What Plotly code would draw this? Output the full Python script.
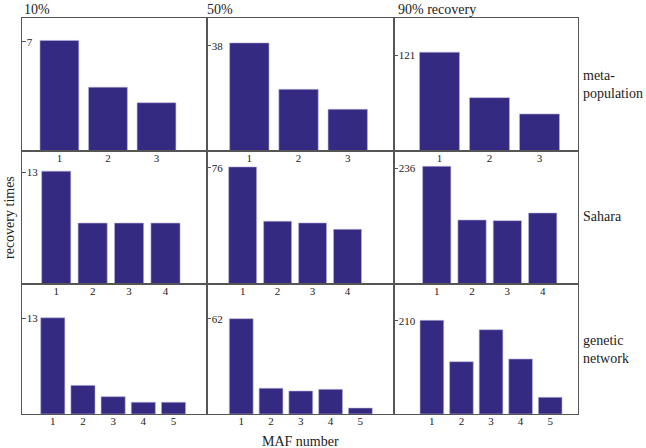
import plotly.graph_objects as go
from plotly.subplots import make_subplots

# ---- data ----
col_titles = ["10%", "50%", "90% recovery"]
row_titles = ["meta-<br>population", "Sahara", "genetic<br>network"]

meta_10 = [7.1, 4.1, 3.1]
meta_50 = [39.1, 22.3, 15.1]
meta_90 = [124.8, 67.4, 46.8]

sahara_10 = [13.15, 7.1, 7.1, 7.1]
sahara_50 = [76.7, 41.1, 40.0, 35.8]
sahara_90 = [240.7, 130.9, 129.6, 145.2]

genetic_10 = [13.1, 3.9, 2.36, 1.6, 1.6]
genetic_50 = [62.2, 16.8, 15.0, 16.1, 3.9]
genetic_90 = [210.9, 117.7, 189.7, 123.8, 37.6]

tick_labels = [[7, 38, 121], [13, 76, 236], [13, 62, 210]]
y_max = [[8.54, 48.1, 168.0], [15.5, 87.1, 272.0], [17.7, 84.8, 292.6]]
# x-axis padding (left, right) in category units
x_pad = [[(0.77, 1.04), (0.86, 0.94), (0.91, 0.77)],
         [(0.94, 1.14), (1.02, 1.33), (1.21, 1.00)],
         [(1.02, 1.11), (1.15, 1.13), (1.28, 0.94)]]

series = [[meta_10, meta_50, meta_90],
          [sahara_10, sahara_50, sahara_90],
          [genetic_10, genetic_50, genetic_90]]

BAR = "#342a82"
LINE = "#555555"
FONT = "Liberation Serif"

fig = make_subplots(rows=3, cols=3, horizontal_spacing=0, vertical_spacing=0,
                    column_widths=[185, 187, 184], row_heights=[133, 133, 130])

for r in range(3):
    for c in range(3):
        vals = series[r][c]
        xs = list(range(1, len(vals) + 1))
        fig.add_trace(go.Bar(x=xs, y=vals, marker_color=BAR,
                             marker_line_color="#b8b2dc", marker_line_width=0.6,
                             width=0.8, showlegend=False, hoverinfo="skip"),
                      row=r + 1, col=c + 1)
        lp, rp = x_pad[r][c]
        fig.update_xaxes(range=[1 - lp, len(vals) + rp], tickvals=xs,
                         ticktext=[str(v) for v in xs], ticks="",
                         ticklabelstandoff=-3,
                         showline=True, mirror=True, linecolor=LINE, linewidth=1,
                         showgrid=False, zeroline=False,
                         tickfont=dict(family=FONT, size=11, color="#222"),
                         row=r + 1, col=c + 1)
        fig.update_yaxes(range=[0, y_max[r][c]], tickvals=[tick_labels[r][c]],
                         ticktext=[str(tick_labels[r][c])], ticks="inside", ticklen=4,
                         tickcolor=LINE, tickwidth=1,
                         ticklabelposition="inside",
                         showline=True, mirror=True, linecolor=LINE, linewidth=1,
                         showgrid=False, zeroline=False,
                         tickfont=dict(family=FONT, size=11, color="#222"),
                         row=r + 1, col=c + 1)

ann = []
col_x = [0.0, 0.329, 0.672]
for t, x in zip(col_titles, col_x):
    ann.append(dict(text=t, x=x, y=1.0227, xref="paper", yref="paper",
                    xanchor="left", yanchor="middle", showarrow=False,
                    font=dict(family=FONT, size=14, color="#222")))
row_y = [0.832, 0.4975, 0.163]
for t, y in zip(row_titles, row_y):
    ann.append(dict(text=t, x=1.0054, y=y, xref="paper", yref="paper",
                    xanchor="left", yanchor="middle", align="left", showarrow=False,
                    font=dict(family=FONT, size=14, color="#222")))
ann.append(dict(text="recovery times", x=-0.0216, y=0.4975, xref="paper", yref="paper",
                xanchor="center", yanchor="middle", textangle=-90, showarrow=False,
                font=dict(family=FONT, size=14, color="#222")))
ann.append(dict(text="MAF number", x=0.5, y=-0.0682, xref="paper", yref="paper",
                xanchor="center", yanchor="middle", showarrow=False,
                font=dict(family=FONT, size=14, color="#222")))

fig.update_layout(width=646, height=448,
                  margin=dict(l=22, r=68, t=18, b=34, autoexpand=False),
                  paper_bgcolor="white", plot_bgcolor="white",
                  annotations=ann, bargap=0.2)

fig.write_html("out.html", config={"displayModeBar": False},
               post_script="document.body.style.margin='0';document.body.style.overflow='hidden';")
